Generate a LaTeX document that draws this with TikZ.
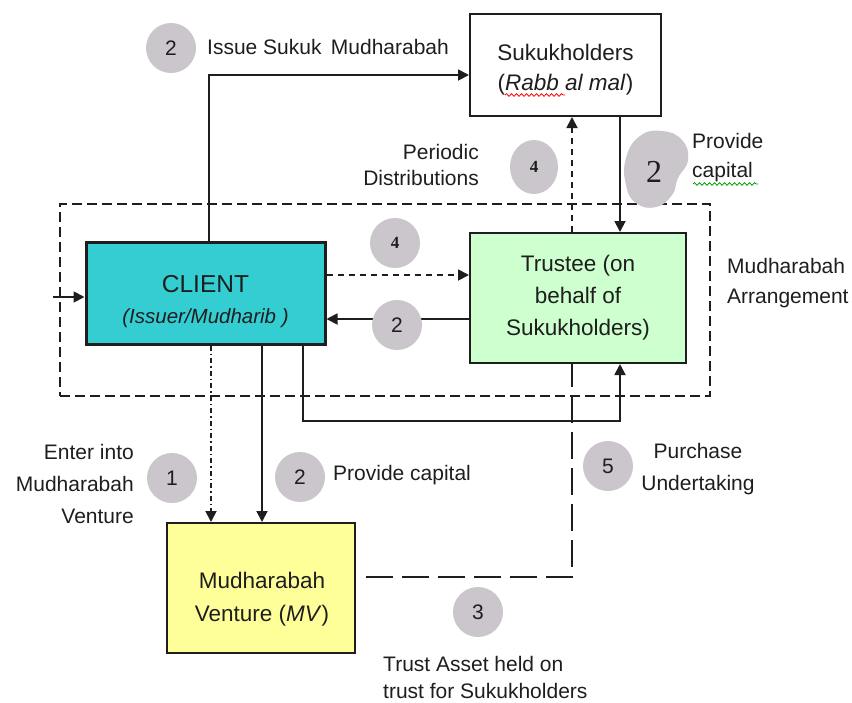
\documentclass[tikz,border=0pt]{standalone}
\usepackage{fontspec}
\setmainfont{Liberation Sans}
\newfontfamily\serifnum{Liberation Serif}
\usetikzlibrary{arrows.meta,decorations.pathmorphing,shapes.geometric}
\definecolor{clientcyan}{RGB}{52,206,210}
\definecolor{trustgreen}{RGB}{206,255,206}
\definecolor{mvyellow}{RGB}{255,255,153}
\definecolor{numgrey}{RGB}{202,198,204}
\definecolor{inkc}{RGB}{30,30,30}
\begin{document}
\begin{tikzpicture}[x=1pt,y=-1pt,
  every node/.style={text=inkc},
  boxnode/.style={draw=inkc,line width=2pt,inner sep=0pt},
  lbl/.style={font=\fontsize{21}{28}\selectfont,inner sep=0pt},
  numc/.style={circle,fill=numgrey,minimum size=50pt,inner sep=0pt,font=\fontsize{21}{24}\selectfont},
  arr/.style={draw=inkc,line width=1.8pt,-{Triangle[length=11pt,width=11pt]}},
  dasharr/.style={arr,dash pattern=on 6pt off 5pt},
  dotarr/.style={arr,dash pattern=on 5pt off 3pt on 1.5pt off 3pt},
  longdash/.style={draw=inkc,line width=2pt,dash pattern=on 27pt off 9pt}
]
\useasboundingbox (0,0) rectangle (852,702);
% helper coordinates
\coordinate (xa) at (209,0);
\coordinate (xb) at (211,0);
\coordinate (xc) at (262,0);
\coordinate (xd) at (303,0);
\coordinate (xe) at (572,0);
\coordinate (xf) at (620,0);
\coordinate (ya) at (0,275);
\coordinate (yb) at (0,319);
\coordinate (yc) at (0,421);
\coordinate (yd) at (0,577);
\coordinate (inL) at (53,297);

% dashed arrangement frame
\node[draw=inkc,line width=1.8pt,dash pattern=on 10pt off 5pt,minimum width=650pt,minimum height=192pt,inner sep=0pt] (arrg) at (385,300) {};

% boxes
\node[boxnode,fill=white,minimum width=191pt,minimum height=102pt] (sukuk) at (565.5,65) {};
\node[lbl,align=center,font=\fontsize{22.5}{30}\selectfont] (sukukt) at (565.5,70) {Sukukholders\\(\textit{Rabb al mal})};
\node[boxnode,line width=3pt,fill=clientcyan,minimum width=239pt,minimum height=102pt] (client) at (205.5,293) {};
\node[lbl,align=center] (clientt) at (205.5,302) {{\fontsize{24.5}{26}\selectfont CLIENT}\\[3pt]{\fontsize{20.5}{22}\selectfont\itshape (Issuer/Mudharib )}};
\node[boxnode,fill=trustgreen,minimum width=216pt,minimum height=130pt] (trustee) at (578,298) {};
\node[lbl,align=center,font=\fontsize{22.5}{32}\selectfont] (trusteet) at (578,298) {Trustee (on\\behalf of\\Sukukholders)};
\node[boxnode,fill=mvyellow,minimum width=188pt,minimum height=130pt] (mv) at (261,588) {};
\node[lbl,align=center,font=\fontsize{22.5}{33}\selectfont] (mvt) at (262,599) {Mudharabah\\Venture (\textit{MV})};

% connectors
\draw[arr] (client.north -| xa) |- ([yshift=-10pt]sukuk.west);
\draw[dasharr] (trustee.north -| xe) -- (sukuk.south -| xe);
\draw[arr] (sukuk.south -| xf) -- (trustee.north -| xf);
\draw[dasharr] (client.east |- ya) -- (trustee.west |- ya);
\draw[arr] (trustee.west |- yb) -- (client.east |- yb);
\draw[arr] (inL) -- (client.west |- inL);
\draw[dotarr] (client.south -| xb) -- (mv.north -| xb);
\draw[arr] (client.south -| xc) -- (mv.north -| xc);
\draw[arr] (client.south -| xd) |- (yc -| xf) -- (trustee.south -| xf);
\draw[longdash] ([xshift=10pt]mv.east |- yd) -| (trustee.south -| xe);

% numbered circles
\node[numc] (n2a) at (171,48) {2};
\node[numc,minimum width=48pt,minimum height=54pt,ellipse,font=\serifnum\bfseries\fontsize{17}{18}\selectfont] (n4a) at (534,167) {4};
\node[numc,font=\serifnum\bfseries\fontsize{17}{18}\selectfont] (n4b) at (395,243) {4};
\node[numc] (n2c) at (397,325) {2};
\node[numc] (n1) at (172,478) {1};
\node[numc] (n2d) at (300,477) {2};
\node[numc] (n5) at (608,466) {5};
\node[numc] (n3) at (478,612) {3};
\fill[numgrey] plot[smooth cycle,tension=0.8] coordinates {(640,136) (662,131) (682,140) (688,160) (678,178) (672,195) (656,207) (636,203) (626,185) (626,158)};
\node[font=\serifnum\fontsize{32}{34}\selectfont,inner sep=0pt] (n2b) at (654,172) {2};

% labels
\node[lbl,anchor=west] (l1) at (207,47) {Issue Sukuk\, Mudharabah};
\node[lbl,anchor=east,align=right,font=\fontsize{21}{26}\selectfont] (l2) at (479,165) {Periodic\\Distributions};
\node[lbl,anchor=west,align=left,font=\fontsize{21}{29}\selectfont] (l3) at (692,158) {Provide\\capital};
\node[lbl,anchor=west,align=left,font=\fontsize{21}{30}\selectfont] (l4) at (727,283) {Mudharabah\\Arrangement};
\node[lbl,anchor=east,align=right,font=\fontsize{21}{32}\selectfont] (l5) at (134,484) {Enter into\\Mudharabah\\Venture};
\node[lbl,anchor=west] (l6) at (333,475) {Provide capital};
\node[lbl,align=center,font=\fontsize{21}{32}\selectfont] (l7) at (698,469) {Purchase\\Undertaking};
\node[lbl,anchor=west,align=left,font=\fontsize{21}{27}\selectfont] (l8) at (383,677) {Trust Asset held on\\trust for Sukukholders};

% spell-check squiggles
\coordinate (sqa) at (505,95);
\coordinate (sqb) at (565,95);
\coordinate (sqc) at (693,184);
\coordinate (sqd) at (758,184);
\draw[red,line width=0.8pt,decorate,decoration={snake,amplitude=1.3pt,segment length=5pt}] (sqa) -- (sqb);
\draw[green!60!black,line width=0.8pt,decorate,decoration={snake,amplitude=1.3pt,segment length=5pt}] (sqc) -- (sqd);
\end{tikzpicture}
\end{document}
